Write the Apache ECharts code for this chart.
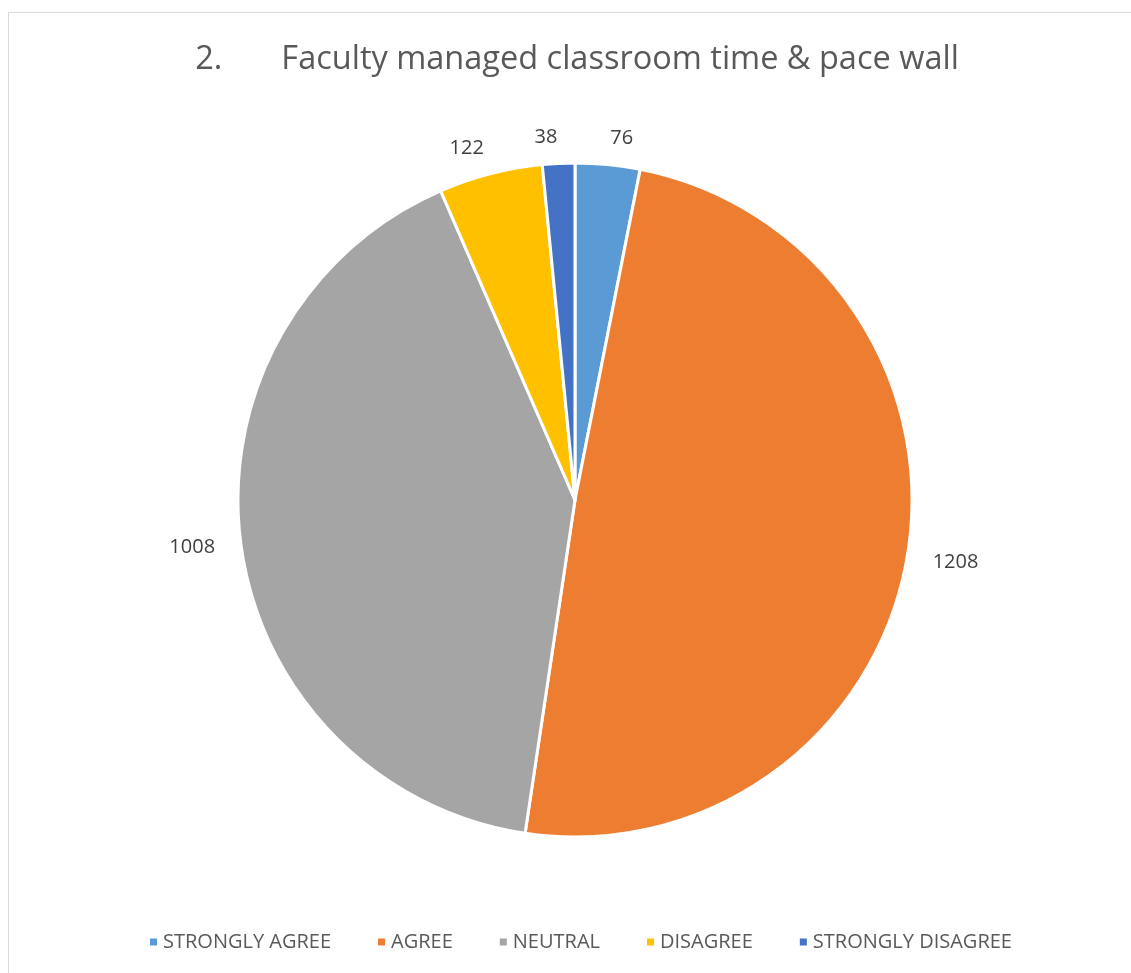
<!DOCTYPE html>
<html><head><meta charset="utf-8">
<script src="https://cdn.jsdelivr.net/npm/echarts@6/dist/echarts.min.js"></script>
<style>
html,body{margin:0;padding:0;background:#fff;}
#frame{position:absolute;left:8px;top:12px;width:1200px;height:1100px;border:1.5px solid #d9d9d9;box-sizing:border-box;}
#chart{position:absolute;left:0;top:0;width:1131px;height:973px;}
</style></head>
<body>
<div id="frame"></div>
<div id="chart"></div>
<script>
const titleText = "2.\u00a0\u00a0\u00a0\u00a0\u00a0\u00a0\u00a0Faculty managed classroom time & pace wall";
const categories = ["STRONGLY AGREE", "AGREE", "NEUTRAL", "DISAGREE", "STRONGLY DISAGREE"];
const values = [76, 1208, 1008, 122, 38];
const colors = ["#5B9BD5", "#ED7D31", "#A5A5A5", "#FFC000", "#4472C4"];

const chart = echarts.init(document.getElementById('chart'));
chart.setOption({
  animation: false,
  color: colors,
  title: {
    text: titleText,
    left: 572,
    textAlign: 'center',
    top: 38,
    textStyle: {fontFamily: 'Open Sans', fontSize: 32.5, fontWeight: 'normal', color: '#595959'}
  },
  legend: {
    bottom: 16,
    left: 143,
    itemWidth: 9,
    itemHeight: 9,
    itemGap: 45,
    icon: 'rect',
    textStyle: {fontFamily: 'Open Sans', fontSize: 20, color: '#595959'},
    data: categories
  },
  series: [{
    type: 'pie',
    center: [575, 500],
    radius: [0, 337],
    startAngle: 90,
    clockwise: true,
    avoidLabelOverlap: false,
    itemStyle: {borderColor: '#fff', borderWidth: 3},
    label: {
      show: true,
      position: 'outside',
      formatter: '{c}',
      fontFamily: 'Open Sans',
      fontSize: 20,
      color: '#404040',
      distanceToLabelLine: 0
    },
    labelLine: {show: false, length: 26, length2: 0},
    data: categories.map((c, i) => ({name: c, value: values[i]}))
  }]
});
</script>
</body></html>
